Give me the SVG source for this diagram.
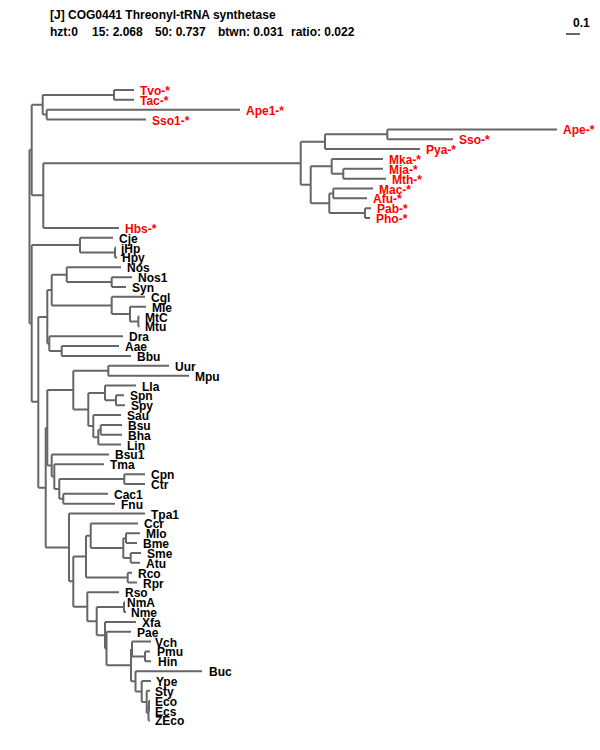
<svg xmlns="http://www.w3.org/2000/svg" width="600" height="750" viewBox="0 0 600 750">
<style>
.br{fill:none;stroke:#666;stroke-width:2}
text{font-family:"Liberation Sans",Arial,sans-serif;font-weight:bold;font-size:12px}
.r{fill:#ff0000}
.k{fill:#000}
</style>
<rect width="600" height="750" fill="#fff"/>
<g id="title">
<text x="50" y="19" class="k">[J] COG0441 Threonyl-tRNA synthetase</text>
<text x="50" y="36" class="k">hzt:0</text>
<text x="92" y="36" class="k">15: 2.068</text>
<text x="155" y="36" class="k">50: 0.737</text>
<text x="218" y="36" class="k">btwn: 0.031</text>
<text x="291" y="36" class="k">ratio: 0.022</text>
</g>
<g id="scalebar">
<path class="br" d="M566 34 H580"/>
<text x="573" y="27" class="k" font-size="11">0.1</text>
</g>
<g id="branches">
<path class="br" d="M29.5 149.75V323.5M29.5 149.75H31.7M29.5 323.5H31.7"/>
<path class="br" d="M31.7 104.8V195.3M31.7 104.8H42.7M31.7 195.3H43.3"/>
<path class="br" d="M42.7 94.9V114.6M42.7 94.9H114M42.7 114.6H46.7"/>
<path class="br" d="M114 90V99.85M114 90H134M114 99.85H134"/>
<path class="br" d="M46.7 109.7V119.55M46.7 109.7H240M46.7 119.55H146"/>
<path class="br" d="M43.3 163.3V227.9M43.3 163.3H300.7M43.3 227.9H119"/>
<path class="br" d="M300.7 141.7V184.8M300.7 141.7H325M300.7 184.8H310.7"/>
<path class="br" d="M325 134.3V149.1M325 134.3H387.3M325 149.1H420"/>
<path class="br" d="M387.3 129.4V139.25M387.3 129.4H557M387.3 139.25H453"/>
<path class="br" d="M310.7 166.3V203.3M310.7 166.3H331.7M310.7 203.3H329.3"/>
<path class="br" d="M331.7 158.95V173.7M331.7 158.95H383M331.7 173.7H343.3"/>
<path class="br" d="M343.3 168.8V178.65M343.3 168.8H383M343.3 178.65H386"/>
<path class="br" d="M329.3 193.4V213.1M329.3 193.4H333.3M329.3 213.1H365"/>
<path class="br" d="M333.3 188.5V198.35M333.3 188.5H373M333.3 198.35H367"/>
<path class="br" d="M365 208.2V218.05M365 208.2H371M365 218.05H370"/>
<path class="br" d="M31.7 245.1V401.8M31.7 245.1H80M31.7 401.8H38.3"/>
<path class="br" d="M80 237.75V252.5M80 237.75H113M80 252.5H115"/>
<path class="br" d="M115 247.6V257.45M115 247.6H116M115 257.45H117"/>
<path class="br" d="M38.3 316.9V487.7M38.3 316.9H47.3M38.3 487.7H45.7"/>
<path class="br" d="M47.3 290.1V343.6M47.3 290.1H51.7M47.3 343.6H49.3"/>
<path class="br" d="M51.7 274.7V305.5M51.7 274.7H66.7M51.7 305.5H111.7"/>
<path class="br" d="M66.7 267.3V282.1M66.7 267.3H121M66.7 282.1H111.7"/>
<path class="br" d="M111.7 277.15V287M111.7 277.15H132M111.7 287H126"/>
<path class="br" d="M111.7 296.85V314.1M111.7 296.85H145M111.7 314.1H130"/>
<path class="br" d="M130 306.7V321.5M130 306.7H146M130 321.5H138.3"/>
<path class="br" d="M138.3 316.55V326.4M138.3 316.55H139.5M138.3 326.4H139.5"/>
<path class="br" d="M49.3 336.25V351M49.3 336.25H123M49.3 351H61.7"/>
<path class="br" d="M61.7 346.1V355.95M61.7 346.1H119M61.7 355.95H131"/>
<path class="br" d="M45.7 427.8V547.4M45.7 427.8H47.3M45.7 547.4H69"/>
<path class="br" d="M47.3 390.1V465.5M47.3 390.1H73.3M47.3 465.5H51.7"/>
<path class="br" d="M73.3 370.7V409.5M73.3 370.7H108.3M73.3 409.5H88.3"/>
<path class="br" d="M108.3 365.8V375.65M108.3 365.8H169M108.3 375.65H189"/>
<path class="br" d="M88.3 392.9V426.1M88.3 392.9H105M88.3 426.1H93.3"/>
<path class="br" d="M105 385.5V400.3M105 385.5H136M105 400.3H116"/>
<path class="br" d="M116 395.35V405.2M116 395.35H124M116 405.2H125"/>
<path class="br" d="M93.3 415.05V437.2M93.3 415.05H121M93.3 437.2H98.3"/>
<path class="br" d="M98.3 429.8V444.6M98.3 429.8H100.7M98.3 444.6H121"/>
<path class="br" d="M100.7 424.9V434.75M100.7 424.9H122M100.7 434.75H122"/>
<path class="br" d="M51.7 454.45V476.6M51.7 454.45H109M51.7 476.6H54.3"/>
<path class="br" d="M54.3 464.3V489M54.3 464.3H104M54.3 489H59.3"/>
<path class="br" d="M59.3 479.1V498.8M59.3 479.1H124.3M59.3 498.8H63.3"/>
<path class="br" d="M124.3 474.15V484M124.3 474.15H145M124.3 484H145"/>
<path class="br" d="M63.3 493.85V503.7M63.3 493.85H108M63.3 503.7H115"/>
<path class="br" d="M69 513.55V581.3M69 513.55H145M69 581.3H73.3"/>
<path class="br" d="M73.3 556.6V606.8M73.3 556.6H86M73.3 606.8H87.3"/>
<path class="br" d="M86 535.7V577.6M86 535.7H90.7M86 577.6H127.7"/>
<path class="br" d="M90.7 523.4V548M90.7 523.4H138M90.7 548H123.3"/>
<path class="br" d="M123.3 538.2V557.9M123.3 538.2H126M123.3 557.9H130.7"/>
<path class="br" d="M126 533.25V543.1M126 533.25H140M126 543.1H137"/>
<path class="br" d="M130.7 552.95V562.8M130.7 552.95H141M130.7 562.8H140"/>
<path class="br" d="M127.7 572.65V582.5M127.7 572.65H132M127.7 582.5H137"/>
<path class="br" d="M87.3 592.35V621.2M87.3 592.35H119M87.3 621.2H96.7"/>
<path class="br" d="M96.7 607.1V635.2M96.7 607.1H124M96.7 635.2H105"/>
<path class="br" d="M124 602.2V612.05M124 602.2H125M124 612.05H126"/>
<path class="br" d="M105 621.9V648.5M105 621.9H136M105 648.5H106.5"/>
<path class="br" d="M106.5 631.75V665.2M106.5 631.75H131M106.5 665.2H131"/>
<path class="br" d="M131 649V681.3M131 649H132M131 681.3H135.5"/>
<path class="br" d="M132 641.6V656.4M132 641.6H151M132 656.4H145"/>
<path class="br" d="M145 651.45V661.3M145 651.45H150M145 661.3H151"/>
<path class="br" d="M135.5 671.15V691.5M135.5 671.15H202M135.5 691.5H141.7"/>
<path class="br" d="M141.7 681V701.9M141.7 681H151M141.7 701.9H146.7"/>
<path class="br" d="M146.7 690.85V713M146.7 690.85H150M146.7 713H148.5"/>
<path class="br" d="M148.5 705.6V720.4M148.5 705.6H149M148.5 720.4H150"/>
<path class="br" d="M149 700.7V710.55M149 700.7H150M149 710.55H150"/>
</g>
<g id="n-Tvo"><text class="r" x="140" y="95">Tvo-*</text></g>
<g id="n-Tac"><text class="r" x="140" y="104.85">Tac-*</text></g>
<g id="n-Ape1"><text class="r" x="246" y="114.7">Ape1-*</text></g>
<g id="n-Sso1"><text class="r" x="152" y="124.55">Sso1-*</text></g>
<g id="n-Ape"><text class="r" x="563" y="134.4">Ape-*</text></g>
<g id="n-Sso"><text class="r" x="459" y="144.25">Sso-*</text></g>
<g id="n-Pya"><text class="r" x="426" y="154.1">Pya-*</text></g>
<g id="n-Mka"><text class="r" x="389" y="163.95">Mka-*</text></g>
<g id="n-Mja"><text class="r" x="389" y="173.8">Mja-*</text></g>
<g id="n-Mth"><text class="r" x="392" y="183.65">Mth-*</text></g>
<g id="n-Mac"><text class="r" x="379" y="193.5">Mac-*</text></g>
<g id="n-Afu"><text class="r" x="373" y="203.35">Afu-*</text></g>
<g id="n-Pab"><text class="r" x="377" y="213.2">Pab-*</text></g>
<g id="n-Pho"><text class="r" x="376" y="223.05">Pho-*</text></g>
<g id="n-Hbs"><text class="r" x="125" y="232.9">Hbs-*</text></g>
<g id="n-Cje"><text class="k" x="119" y="242.75">Cje</text></g>
<g id="n-jHp"><text class="k" x="121" y="252.6">jHp</text></g>
<g id="n-Hpy"><text class="k" x="122" y="262.45">Hpy</text></g>
<g id="n-Nos"><text class="k" x="127" y="272.3">Nos</text></g>
<g id="n-Nos1"><text class="k" x="138" y="282.15">Nos1</text></g>
<g id="n-Syn"><text class="k" x="132" y="292">Syn</text></g>
<g id="n-Cgl"><text class="k" x="151" y="301.85">Cgl</text></g>
<g id="n-Mle"><text class="k" x="152" y="311.7">Mle</text></g>
<g id="n-MtC"><text class="k" x="145" y="321.55">MtC</text></g>
<g id="n-Mtu"><text class="k" x="145" y="331.4">Mtu</text></g>
<g id="n-Dra"><text class="k" x="129" y="341.25">Dra</text></g>
<g id="n-Aae"><text class="k" x="125" y="351.1">Aae</text></g>
<g id="n-Bbu"><text class="k" x="137" y="360.95">Bbu</text></g>
<g id="n-Uur"><text class="k" x="175" y="370.8">Uur</text></g>
<g id="n-Mpu"><text class="k" x="195" y="380.65">Mpu</text></g>
<g id="n-Lla"><text class="k" x="142" y="390.5">Lla</text></g>
<g id="n-Spn"><text class="k" x="130" y="400.35">Spn</text></g>
<g id="n-Spy"><text class="k" x="131" y="410.2">Spy</text></g>
<g id="n-Sau"><text class="k" x="127" y="420.05">Sau</text></g>
<g id="n-Bsu"><text class="k" x="128" y="429.9">Bsu</text></g>
<g id="n-Bha"><text class="k" x="128" y="439.75">Bha</text></g>
<g id="n-Lin"><text class="k" x="127" y="449.6">Lin</text></g>
<g id="n-Bsu1"><text class="k" x="115" y="459.45">Bsu1</text></g>
<g id="n-Tma"><text class="k" x="110" y="469.3">Tma</text></g>
<g id="n-Cpn"><text class="k" x="151" y="479.15">Cpn</text></g>
<g id="n-Ctr"><text class="k" x="151" y="489">Ctr</text></g>
<g id="n-Cac1"><text class="k" x="114" y="498.85">Cac1</text></g>
<g id="n-Fnu"><text class="k" x="121" y="508.7">Fnu</text></g>
<g id="n-Tpa1"><text class="k" x="151" y="518.55">Tpa1</text></g>
<g id="n-Ccr"><text class="k" x="144" y="528.4">Ccr</text></g>
<g id="n-Mlo"><text class="k" x="146" y="538.25">Mlo</text></g>
<g id="n-Bme"><text class="k" x="143" y="548.1">Bme</text></g>
<g id="n-Sme"><text class="k" x="147" y="557.95">Sme</text></g>
<g id="n-Atu"><text class="k" x="146" y="567.8">Atu</text></g>
<g id="n-Rco"><text class="k" x="138" y="577.65">Rco</text></g>
<g id="n-Rpr"><text class="k" x="143" y="587.5">Rpr</text></g>
<g id="n-Rso"><text class="k" x="125" y="597.35">Rso</text></g>
<g id="n-NmA"><text class="k" x="127" y="607.2">NmA</text></g>
<g id="n-Nme"><text class="k" x="131" y="617.05">Nme</text></g>
<g id="n-Xfa"><text class="k" x="142" y="626.9">Xfa</text></g>
<g id="n-Pae"><text class="k" x="137" y="636.75">Pae</text></g>
<g id="n-Vch"><text class="k" x="155" y="646.6">Vch</text></g>
<g id="n-Pmu"><text class="k" x="157" y="656.45">Pmu</text></g>
<g id="n-Hin"><text class="k" x="158" y="666.3">Hin</text></g>
<g id="n-Buc"><text class="k" x="209" y="676.15">Buc</text></g>
<g id="n-Ype"><text class="k" x="156" y="686">Ype</text></g>
<g id="n-Sty"><text class="k" x="155" y="695.85">Sty</text></g>
<g id="n-Eco"><text class="k" x="155" y="705.7">Eco</text></g>
<g id="n-Ecs"><text class="k" x="155" y="715.55">Ecs</text></g>
<g id="n-ZEco"><text class="k" x="155" y="725.4">ZEco</text></g>
</svg>
